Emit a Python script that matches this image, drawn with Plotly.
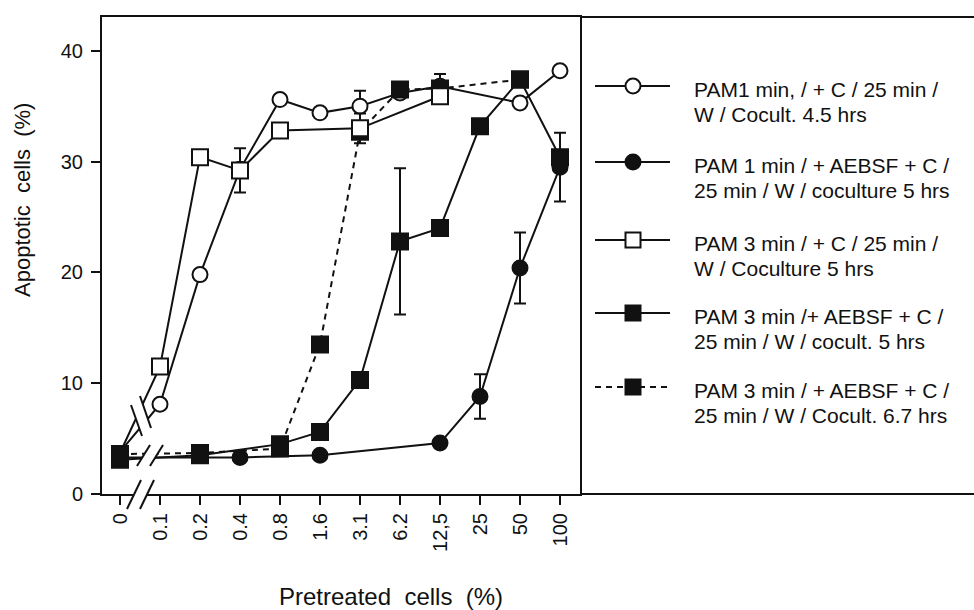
import plotly.graph_objects as go

# ---------------- data ----------------
categories = ["0", "0.1", "0.2", "0.4", "0.8", "1.6", "3.1", "6.2", "12,5", "25", "50", "100"]

pam1_x = ["0", "0.1", "0.2", "0.4", "0.8", "1.6", "3.1", "6.2", "12,5", "50", "100"]
pam1_y = [3.8, 8.1, 19.8, 29.3, 35.6, 34.4, 35.0, 36.2, 36.8, 35.3, 38.2]
pam1_err = [0, 0, 0, 0, 0, 0, 1.4, 0, 1.1, 0, 0]

pam1_aebsf_x = ["0", "0.4", "1.6", "12,5", "25", "50", "100"]
pam1_aebsf_y = [3.3, 3.3, 3.5, 4.6, 8.8, 20.4, 29.5]
pam1_aebsf_err = [0, 0, 0, 0, 2.0, 3.2, 3.1]

pam3_x = ["0", "0.1", "0.2", "0.4", "0.8", "3.1", "12,5"]
pam3_y = [3.7, 11.5, 30.4, 29.2, 32.8, 33.0, 35.9]
pam3_err = [0, 0, 0, 2.0, 0, 1.35, 0]

pam3_aebsf_x = ["0", "0.2", "0.8", "1.6", "3.1", "6.2", "12,5", "25", "50", "100"]
pam3_aebsf_y = [3.1, 3.5, 4.5, 5.6, 10.3, 22.8, 24.0, 33.2, 37.4, 30.4]
pam3_aebsf_err = [0, 0, 0, 0, 0, 6.6, 0, 0, 0, 0]

pam3_aebsf67_x = ["0", "0.2", "0.8", "1.6", "3.1", "6.2", "12,5", "50"]
pam3_aebsf67_y = [3.6, 3.7, 4.1, 13.5, 32.7, 36.5, 36.6, 37.4]

legend_lines = [
    ("PAM1 min, / + C / 25 min /", "W / Cocult. 4.5 hrs"),
    ("PAM 1 min / + AEBSF + C /", "25 min / W / coculture 5 hrs"),
    ("PAM 3 min / + C / 25 min /", "W / Coculture 5 hrs"),
    ("PAM 3 min /+ AEBSF + C /", "25 min / W / cocult. 5 hrs"),
    ("PAM 3 min / + AEBSF + C /", "25 min / W / Cocult. 6.7 hrs"),
]

y_ticks = [0, 10, 20, 30, 40]

# ---------------- styling / layout helpers ----------------
FONT = "Liberation Sans, Arial, Helvetica, sans-serif"
INK = "#111111"
W, H = 974, 610
PL, PR, PT, PB = 102, 580, 17, 494      # plot-area pixel box
SPAN_X = W - PL
SPAN_Y = PB - PT


def px(x):
    return (x - PL) / SPAN_X


def py(y):
    return (PB - y) / SPAN_Y


MS_C = 15
MS_S = 16
LW = 2
DASH = "6px,5px"

fig = go.Figure()


def series(xs, ys, errs, symbol, fill, dash="solid", hide_zero=False):
    sizes = []
    for c in xs:
        base = MS_C if "circle" in symbol else MS_S
        sizes.append(0 if (hide_zero and c == "0") else base)
    kw = {}
    if errs is not None:
        kw["error_y"] = dict(type="data", array=errs, visible=True, color=INK,
                             thickness=2, width=6)
    fig.add_trace(go.Scatter(
        x=xs, y=ys, mode="lines+markers",
        line=dict(color=INK, width=LW, dash=dash),
        marker=dict(symbol=symbol, size=sizes, color=fill, opacity=1,
                    line=dict(color=INK, width=2)),
        showlegend=False, hoverinfo="skip", cliponaxis=False, **kw))


series(pam1_x, pam1_y, pam1_err, "circle", "white", hide_zero=True)
series(pam1_aebsf_x, pam1_aebsf_y, pam1_aebsf_err, "circle", INK)
series(pam3_aebsf67_x, pam3_aebsf67_y, None, "square", INK, dash=DASH)
series(pam3_aebsf_x, pam3_aebsf_y, pam3_aebsf_err, "square", INK)
series(pam3_x, pam3_y, pam3_err, "square", "white", hide_zero=True)

# ---------------- manual legend (second axes in pixel units) ----------------
leg_sym_y = [86, 162, 240, 313, 387]
leg_styles = [("circle", "white", "solid"), ("circle", INK, "solid"),
              ("square", "white", "solid"), ("square", INK, "solid"),
              ("square", INK, DASH)]
annotations = []
for (sym, fill, dash), yy, (l1, l2) in zip(leg_styles, leg_sym_y, legend_lines):
    fig.add_trace(go.Scatter(x=[595, 670], y=[yy, yy], mode="lines",
                             line=dict(color=INK, width=LW, dash=dash),
                             xaxis="x2", yaxis="y2", showlegend=False, hoverinfo="skip"))
    fig.add_trace(go.Scatter(x=[633], y=[yy], mode="markers",
                             marker=dict(symbol=sym, size=MS_C if sym == "circle" else MS_S - 1,
                                         color=fill, opacity=1, line=dict(color=INK, width=2)),
                             xaxis="x2", yaxis="y2", showlegend=False, hoverinfo="skip"))
    for k, txt in enumerate((l1, l2)):
        annotations.append(dict(x=692, y=yy + 3 + 25.5 * k, xref="x2", yref="y2",
                                text=txt, showarrow=False, xanchor="left", yanchor="middle",
                                font=dict(family=FONT, size=21, color=INK)))

# axis titles
annotations.append(dict(x=px(391), y=py(596), xref="paper", yref="paper",
                        text="Pretreated \u00a0cells \u00a0(%)", showarrow=False,
                        xanchor="center", yanchor="middle",
                        font=dict(family=FONT, size=24, color=INK)))
annotations.append(dict(x=px(22), y=py(200), xref="paper", yref="paper",
                        text="Apoptotic \u00a0cells \u00a0(%)", showarrow=False, textangle=-90,
                        xanchor="center", yanchor="middle",
                        font=dict(family=FONT, size=22, color=INK)))

# ---------------- decorations: legend box and axis breaks ----------------
shapes = []
shapes.append(dict(type="line", xref="paper", yref="paper", x0=px(PR), x1=px(990),
                   y0=py(PT), y1=py(PT), line=dict(color=INK, width=2)))
shapes.append(dict(type="line", xref="paper", yref="paper", x0=px(PR), x1=px(990),
                   y0=py(PB), y1=py(PB), line=dict(color=INK, width=2)))

break_pairs = [
    ((131, 405), (142, 436), (140, 396), (151, 428)),   # rising lines
    ((137, 466), (150, 445), (150, 466), (163, 445)),   # low lines
    ((127, 509), (141, 480), (140, 509), (154, 480)),   # x axis
]
for a0, a1, b0, b1 in break_pairs:
    path = "M {},{} L {},{} L {},{} L {},{} Z".format(
        px(a0[0]), py(a0[1]), px(a1[0]), py(a1[1]),
        px(b1[0]), py(b1[1]), px(b0[0]), py(b0[1]))
    shapes.append(dict(type="path", xref="paper", yref="paper", path=path,
                       fillcolor="white", line=dict(width=0), layer="above"))
    for p0, p1 in ((a0, a1), (b0, b1)):
        shapes.append(dict(type="line", xref="paper", yref="paper",
                           x0=px(p0[0]), y0=py(p0[1]), x1=px(p1[0]), y1=py(p1[1]),
                           line=dict(color=INK, width=2), layer="above"))

fig.update_layout(
    width=W, height=H, autosize=False,
    margin=dict(l=PL, r=0, t=PT, b=H - PB, pad=0),
    paper_bgcolor="white", plot_bgcolor="white",
    font=dict(family=FONT, size=20, color=INK),
    showlegend=False,
    xaxis=dict(type="category", categoryorder="array", categoryarray=categories,
               domain=[0, px(PR)], range=[-0.45, 11.5],
               tickangle=-90, ticks="outside", ticklen=9, tickwidth=2, tickcolor=INK,
               showline=True, linewidth=2, linecolor=INK, mirror=True,
               showgrid=False, zeroline=False, tickfont=dict(size=20), fixedrange=True),
    yaxis=dict(range=[0, (PB - PT) / 11.08], tickvals=y_ticks,
               ticks="outside", ticklen=9, tickwidth=2, tickcolor=INK,
               showline=True, linewidth=2, linecolor=INK, mirror=True,
               showgrid=False, zeroline=False, tickfont=dict(size=20),
               ticklabelstandoff=4, fixedrange=True),
    xaxis2=dict(domain=[px(PR), 1], range=[PR, W], visible=False, anchor="y2", fixedrange=True),
    yaxis2=dict(domain=[0, 1], range=[PB, PT], visible=False, anchor="x2", fixedrange=True),
    annotations=annotations,
    shapes=shapes,
)

fig.write_html("out.html", config={"displayModeBar": False})
